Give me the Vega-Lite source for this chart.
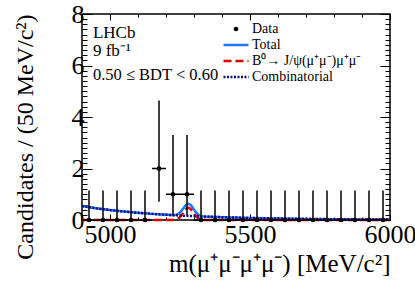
{
  "$schema": "https://vega.github.io/schema/vega-lite/v6.json",
  "width": 308,
  "height": 206,
  "autosize": {"type": "none"},
  "padding": {"left": 82, "top": 14, "right": 25, "bottom": 63},
  "background": "white",
  "config": {
    "font": "Liberation Serif",
    "text": {"font": "Liberation Serif"},
    "legend": {"labelFont": "Liberation Serif"},
    "view": {"stroke": "black", "strokeWidth": 1.5},
    "axis": {"grid": false, "labelFlush": false, "labelOverlap": false, "labelColor": "black", "titleColor": "black", "tickColor": "black", "labelFont": "Liberation Serif", "titleFont": "Liberation Serif"}
  },
  "datasets": {
    "hist": [
      {"m": 4925, "xlo": 4900, "xhi": 4950, "Data": 0, "lo": 0, "hi": 1.148},
      {"m": 4975, "xlo": 4950, "xhi": 5000, "Data": 0, "lo": 0, "hi": 1.148},
      {"m": 5025, "xlo": 5000, "xhi": 5050, "Data": 0, "lo": 0, "hi": 1.148},
      {"m": 5075, "xlo": 5050, "xhi": 5100, "Data": 0, "lo": 0, "hi": 1.148},
      {"m": 5125, "xlo": 5100, "xhi": 5150, "Data": 0, "lo": 0, "hi": 1.148},
      {"m": 5175, "xlo": 5150, "xhi": 5200, "Data": 2, "lo": 0.708, "hi": 4.638},
      {"m": 5225, "xlo": 5200, "xhi": 5250, "Data": 1, "lo": 0.173, "hi": 3.3},
      {"m": 5275, "xlo": 5250, "xhi": 5300, "Data": 1, "lo": 0.173, "hi": 3.3},
      {"m": 5325, "xlo": 5300, "xhi": 5350, "Data": 0, "lo": 0, "hi": 1.148},
      {"m": 5375, "xlo": 5350, "xhi": 5400, "Data": 0, "lo": 0, "hi": 1.148},
      {"m": 5425, "xlo": 5400, "xhi": 5450, "Data": 0, "lo": 0, "hi": 1.148},
      {"m": 5475, "xlo": 5450, "xhi": 5500, "Data": 0, "lo": 0, "hi": 1.148},
      {"m": 5525, "xlo": 5500, "xhi": 5550, "Data": 0, "lo": 0, "hi": 1.148},
      {"m": 5575, "xlo": 5550, "xhi": 5600, "Data": 0, "lo": 0, "hi": 1.148},
      {"m": 5625, "xlo": 5600, "xhi": 5650, "Data": 0, "lo": 0, "hi": 1.148},
      {"m": 5675, "xlo": 5650, "xhi": 5700, "Data": 0, "lo": 0, "hi": 1.148},
      {"m": 5725, "xlo": 5700, "xhi": 5750, "Data": 0, "lo": 0, "hi": 1.148},
      {"m": 5775, "xlo": 5750, "xhi": 5800, "Data": 0, "lo": 0, "hi": 1.148},
      {"m": 5825, "xlo": 5800, "xhi": 5850, "Data": 0, "lo": 0, "hi": 1.148},
      {"m": 5875, "xlo": 5850, "xhi": 5900, "Data": 0, "lo": 0, "hi": 1.148},
      {"m": 5925, "xlo": 5900, "xhi": 5950, "Data": 0, "lo": 0, "hi": 1.148},
      {"m": 5975, "xlo": 5950, "xhi": 6000, "Data": 0, "lo": 0, "hi": 1.148}
    ],
    "curves": [
      {"m": 4900, "Total": 0.540, "Signal": 0, "Combinatorial": 0.540},
      {"m": 4950, "Total": 0.455, "Signal": 0, "Combinatorial": 0.455},
      {"m": 5000, "Total": 0.385, "Signal": 0, "Combinatorial": 0.385},
      {"m": 5050, "Total": 0.328, "Signal": 0, "Combinatorial": 0.328},
      {"m": 5100, "Total": 0.279, "Signal": 0, "Combinatorial": 0.279},
      {"m": 5150, "Total": 0.238, "Signal": 0, "Combinatorial": 0.238},
      {"m": 5200, "Total": 0.204, "Signal": 0, "Combinatorial": 0.204},
      {"m": 5220, "Total": 0.193, "Signal": 0.002, "Combinatorial": 0.191},
      {"m": 5230, "Total": 0.195, "Signal": 0.010, "Combinatorial": 0.185},
      {"m": 5235, "Total": 0.204, "Signal": 0.021, "Combinatorial": 0.183},
      {"m": 5240, "Total": 0.220, "Signal": 0.040, "Combinatorial": 0.180},
      {"m": 5245, "Total": 0.248, "Signal": 0.071, "Combinatorial": 0.177},
      {"m": 5250, "Total": 0.291, "Signal": 0.117, "Combinatorial": 0.174},
      {"m": 5255, "Total": 0.351, "Signal": 0.179, "Combinatorial": 0.172},
      {"m": 5260, "Total": 0.423, "Signal": 0.254, "Combinatorial": 0.169},
      {"m": 5265, "Total": 0.498, "Signal": 0.332, "Combinatorial": 0.166},
      {"m": 5270, "Total": 0.567, "Signal": 0.403, "Combinatorial": 0.164},
      {"m": 5275, "Total": 0.613, "Signal": 0.452, "Combinatorial": 0.161},
      {"m": 5280, "Total": 0.629, "Signal": 0.470, "Combinatorial": 0.159},
      {"m": 5285, "Total": 0.608, "Signal": 0.452, "Combinatorial": 0.156},
      {"m": 5290, "Total": 0.557, "Signal": 0.403, "Combinatorial": 0.154},
      {"m": 5295, "Total": 0.483, "Signal": 0.332, "Combinatorial": 0.151},
      {"m": 5300, "Total": 0.403, "Signal": 0.254, "Combinatorial": 0.149},
      {"m": 5305, "Total": 0.326, "Signal": 0.179, "Combinatorial": 0.147},
      {"m": 5310, "Total": 0.261, "Signal": 0.117, "Combinatorial": 0.144},
      {"m": 5315, "Total": 0.213, "Signal": 0.071, "Combinatorial": 0.142},
      {"m": 5320, "Total": 0.180, "Signal": 0.040, "Combinatorial": 0.140},
      {"m": 5325, "Total": 0.159, "Signal": 0.021, "Combinatorial": 0.138},
      {"m": 5330, "Total": 0.146, "Signal": 0.010, "Combinatorial": 0.136},
      {"m": 5340, "Total": 0.133, "Signal": 0.002, "Combinatorial": 0.131},
      {"m": 5400, "Total": 0.109, "Signal": 0, "Combinatorial": 0.109},
      {"m": 5500, "Total": 0.080, "Signal": 0, "Combinatorial": 0.080},
      {"m": 5600, "Total": 0.058, "Signal": 0, "Combinatorial": 0.058},
      {"m": 5700, "Total": 0.043, "Signal": 0, "Combinatorial": 0.043},
      {"m": 5800, "Total": 0.031, "Signal": 0, "Combinatorial": 0.031},
      {"m": 5900, "Total": 0.023, "Signal": 0, "Combinatorial": 0.023},
      {"m": 6000, "Total": 0.017, "Signal": 0, "Combinatorial": 0.017}
    ],
    "one": [{}]
  },
  "layer": [
    {
      "data": {"name": "curves"},
      "transform": [{"fold": ["Total", "Signal", "Combinatorial"], "as": ["series", "val"]}, {"filter": {"field": "series", "equal": "Total"}}],
      "mark": {"type": "line", "strokeWidth": 2.5},
      "encoding": {
        "x": {"field": "m", "type": "quantitative", "scale": {"domain": [4900, 6000], "nice": false, "zero": false},
          "axis": {"orient": "bottom", "values": [5000, 5500, 6000], "format": "d", "ticks": false, "domain": false, "labelFontSize": 26, "labelPadding": 1, "labelFont": "Liberation Serif", "title": "m(μ⁺μ⁻μ⁺μ⁻) [MeV/c²]", "titleFont": "Liberation Serif", "titleFontSize": 25, "titleFontWeight": "normal", "titleAnchor": "end", "titlePadding": 4}},
        "y": {"field": "val", "type": "quantitative", "scale": {"domain": [0, 8], "nice": false},
          "axis": {"orient": "left", "values": [0, 2, 4, 6, 8], "format": "d", "ticks": false, "domain": false, "labelFontSize": 26, "labelPadding": -2, "labelFont": "Liberation Serif", "title": "Candidates / (50 MeV/c²)", "titleFont": "Liberation Serif", "titleFontSize": 24, "titleFontWeight": "normal", "titleAnchor": "end", "titlePadding": 34}},
        "color": {"field": "series", "type": "nominal",
          "scale": {"domain": ["Data", "Total", "Signal", "Combinatorial"], "range": ["black", "#1f78ff", "#e00000", "#0a0a8a"]},
          "legend": {"orient": "none", "legendX": 147, "legendY": 8, "title": null, "labelFont": "Liberation Serif", "labelFontSize": 14, "labelOffset": 9, "symbolSize": 625, "symbolStrokeWidth": 2.5, "rowPadding": 2, "labelColor": "black",
            "labelExpr": "datum.label == 'Signal' ? 'B⁰→ J/ψ(μ⁺μ⁻)μ⁺μ⁻' : datum.label",
            "encode": {"symbols": {"update": {
              "shape": {"signal": "datum.value == 'Data' ? 'circle' : 'stroke'"},
              "size": {"signal": "datum.value == 'Data' ? 22 : 625"},
              "fill": {"signal": "datum.value == 'Data' ? 'black' : 'transparent'"},
              "strokeWidth": {"signal": "datum.value == 'Data' ? 0 : 2.5"},
              "strokeDash": {"signal": "datum.value == 'Signal' ? [8, 4] : (datum.value == 'Combinatorial' ? [2, 1.5] : [1, 0])"}
            }}}}}
      }
    },
    {
      "data": {"name": "curves"},
      "transform": [{"fold": ["Total", "Signal", "Combinatorial"], "as": ["series", "val"]}, {"filter": {"field": "series", "equal": "Signal"}}],
      "mark": {"type": "line", "strokeWidth": 2.5, "strokeDash": [8, 4]},
      "encoding": {
        "x": {"field": "m", "type": "quantitative", "scale": {"domain": [4900, 6000], "nice": false, "zero": false},
          "axis": {"orient": "bottom", "values": [5000, 5500, 6000], "labels": false, "domain": false, "ticks": true, "tickSize": -6, "tickWidth": 1, "title": null}},
        "y": {"field": "val", "type": "quantitative", "scale": {"domain": [0, 8], "nice": false},
          "axis": {"orient": "left", "values": [0, 2, 4, 6, 8], "labels": false, "domain": false, "ticks": true, "tickSize": -10, "tickWidth": 1, "title": null}},
        "color": {"field": "series", "type": "nominal"}
      }
    },
    {
      "data": {"name": "curves"},
      "transform": [{"fold": ["Total", "Signal", "Combinatorial"], "as": ["series", "val"]}, {"filter": {"field": "series", "equal": "Combinatorial"}}],
      "mark": {"type": "line", "strokeWidth": 2.5, "strokeDash": [2, 1.5]},
      "encoding": {
        "x": {"field": "m", "type": "quantitative", "scale": {"domain": [4900, 6000], "nice": false, "zero": false},
          "axis": {"orient": "bottom", "values": [4900, 5000, 5100, 5200, 5300, 5400, 5500, 5600, 5700, 5800, 5900, 6000], "labels": false, "domain": false, "ticks": true, "tickSize": -3, "tickWidth": 1, "title": null}},
        "y": {"field": "val", "type": "quantitative", "scale": {"domain": [0, 8], "nice": false},
          "axis": {"orient": "left", "values": [0.2, 0.4, 0.6, 0.8, 1, 1.2, 1.4, 1.6, 1.8, 2.2, 2.4, 2.6, 2.8, 3, 3.2, 3.4, 3.6, 3.8, 4.2, 4.4, 4.6, 4.8, 5, 5.2, 5.4, 5.6, 5.8, 6.2, 6.4, 6.6, 6.8, 7, 7.2, 7.4, 7.6, 7.8], "labels": false, "domain": false, "ticks": true, "tickSize": -5, "tickWidth": 1, "title": null}},
        "color": {"field": "series", "type": "nominal"}
      }
    },
    {
      "data": {"name": "hist"},
      "mark": {"type": "rule", "color": "black", "strokeWidth": 1.5},
      "encoding": {
        "x": {"field": "m", "type": "quantitative", "scale": {"domain": [4900, 6000], "nice": false, "zero": false},
          "axis": {"orient": "top", "values": [5000, 5500, 6000], "labels": false, "domain": false, "ticks": true, "tickSize": -6, "tickWidth": 1, "title": null}},
        "y": {"field": "lo", "type": "quantitative", "scale": {"domain": [0, 8], "nice": false},
          "axis": {"orient": "right", "values": [0, 2, 4, 6, 8], "labels": false, "domain": false, "ticks": true, "tickSize": -10, "tickWidth": 1, "title": null}},
        "y2": {"field": "hi"}
      }
    },
    {
      "data": {"name": "hist"},
      "mark": {"type": "rule", "color": "black", "strokeWidth": 1.5},
      "encoding": {
        "x": {"field": "xlo", "type": "quantitative", "scale": {"domain": [4900, 6000], "nice": false, "zero": false},
          "axis": {"orient": "top", "values": [4900, 5000, 5100, 5200, 5300, 5400, 5500, 5600, 5700, 5800, 5900, 6000], "labels": false, "domain": false, "ticks": true, "tickSize": -3, "tickWidth": 1, "title": null}},
        "x2": {"field": "xhi"},
        "y": {"field": "Data", "type": "quantitative", "scale": {"domain": [0, 8], "nice": false},
          "axis": {"orient": "right", "values": [0.2, 0.4, 0.6, 0.8, 1, 1.2, 1.4, 1.6, 1.8, 2.2, 2.4, 2.6, 2.8, 3, 3.2, 3.4, 3.6, 3.8, 4.2, 4.4, 4.6, 4.8, 5, 5.2, 5.4, 5.6, 5.8, 6.2, 6.4, 6.6, 6.8, 7, 7.2, 7.4, 7.6, 7.8], "labels": false, "domain": false, "ticks": true, "tickSize": -5, "tickWidth": 1, "title": null}}
      }
    },
    {
      "data": {"name": "hist"},
      "transform": [{"fold": ["Data"], "as": ["series", "n"]}],
      "mark": {"type": "point", "filled": true, "size": 22, "opacity": 1},
      "encoding": {
        "x": {"field": "m", "type": "quantitative", "scale": {"domain": [4900, 6000], "nice": false, "zero": false}, "axis": null},
        "y": {"field": "n", "type": "quantitative", "scale": {"domain": [0, 8], "nice": false}, "axis": null},
        "color": {"field": "series", "type": "nominal"}
      }
    },
    {
      "data": {"name": "one"},
      "mark": {"type": "text", "text": "LHCb", "font": "Liberation Serif", "fontSize": 17, "align": "left", "baseline": "alphabetic", "color": "black"},
      "encoding": {
        "x": {"datum": 4939, "type": "quantitative", "scale": {"domain": [4900, 6000], "nice": false, "zero": false}, "axis": null},
        "y": {"datum": 7.07, "type": "quantitative", "scale": {"domain": [0, 8], "nice": false}, "axis": null}
      }
    },
    {
      "data": {"name": "one"},
      "mark": {"type": "text", "text": "9 fb⁻¹", "font": "Liberation Serif", "fontSize": 17, "align": "left", "baseline": "alphabetic", "color": "black"},
      "encoding": {
        "x": {"datum": 4939, "type": "quantitative", "scale": {"domain": [4900, 6000], "nice": false, "zero": false}, "axis": null},
        "y": {"datum": 6.36, "type": "quantitative", "scale": {"domain": [0, 8], "nice": false}, "axis": null}
      }
    },
    {
      "data": {"name": "one"},
      "mark": {"type": "text", "text": "0.50 ≤ BDT < 0.60", "font": "Liberation Serif", "fontSize": 16.5, "align": "left", "baseline": "alphabetic", "color": "black"},
      "encoding": {
        "x": {"datum": 4939, "type": "quantitative", "scale": {"domain": [4900, 6000], "nice": false, "zero": false}, "axis": null},
        "y": {"datum": 5.45, "type": "quantitative", "scale": {"domain": [0, 8], "nice": false}, "axis": null}
      }
    }
  ],
  "resolve": {"axis": {"x": "independent", "y": "independent"}}
}
